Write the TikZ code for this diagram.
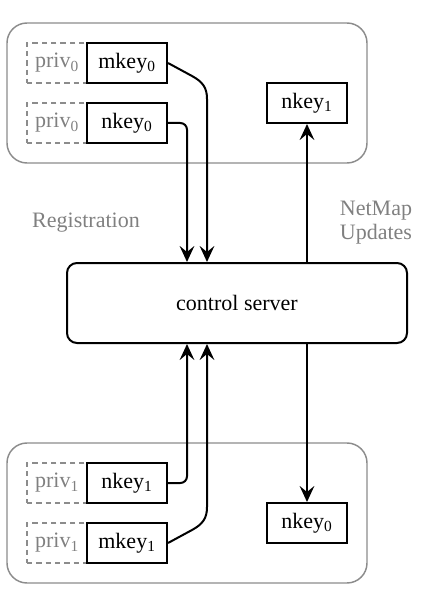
\documentclass[tikz,border=0pt]{standalone}
\usepackage{fontspec}
\setmainfont{Liberation Serif}
\usetikzlibrary{arrows.meta}
\definecolor{grp}{HTML}{8C8C8C}
\definecolor{lbl}{HTML}{808080}
\newcommand{\txtfont}{\fontsize{16.5}{18}\selectfont}
\tikzset{
 keybox/.style={draw, line width=1.5pt, minimum width=60pt, minimum height=30pt, inner sep=0pt, font=\txtfont},
 privbox/.style={draw=grp, dash pattern=on 4pt off 3pt, line width=1.1pt, minimum width=45pt, minimum height=30pt, inner sep=0pt, text=lbl, font=\txtfont},
 group/.style={draw=grp, line width=1.1pt, rounded corners=15pt, minimum width=270pt, minimum height=105pt, inner sep=0pt},
 server/.style={draw, line width=1.5pt, rounded corners=7.5pt, minimum width=255pt, minimum height=60pt, inner sep=0pt, font=\txtfont},
 conn/.style={line width=1.5pt, -{Stealth[length=12pt,width=11pt,inset=4.5pt]}},
 lbltext/.style={text=lbl, font=\txtfont, align=center, inner sep=0pt}
}
\begin{document}
\begin{tikzpicture}[x=0.75pt,y=-0.75pt]
\useasboundingbox (0,0) rectangle (434,602);
% groups
\node[group] (gtop) at (187,93) {};
\node[group] (gbot) at (187,513) {};
% top group
\node[privbox] (priv0a) at (57,63) {priv\textsubscript{0}};
\node[keybox] (mkey0) at (127,63) {mkey\textsubscript{0}};
\node[privbox] (priv0b) at (57,123) {priv\textsubscript{0}};
\node[keybox] (nkey0a) at (127,123) {nkey\textsubscript{0}};
\node[keybox] (nkey1t) at (307,103) {nkey\textsubscript{1}};
% server
\node[server] (server) at (237,303) {control server};
% bottom group
\node[privbox] (priv1a) at (57,483) {priv\textsubscript{1}};
\node[keybox] (nkey1b) at (127,483) {nkey\textsubscript{1}};
\node[privbox] (priv1b) at (57,543) {priv\textsubscript{1}};
\node[keybox] (mkey1) at (127,543) {mkey\textsubscript{1}};
\node[keybox] (nkey0b) at (307,523) {nkey\textsubscript{0}};
% labels
\node[lbltext] (reg) at (86,223) {Registration};
\node[lbltext] (netmap) at (376,223) {NetMap\\Updates};
% anchor points on server
\coordinate (sN1) at ([xshift=-37.5pt]server.north);
\coordinate (sN2) at ([xshift=-22.5pt]server.north);
\coordinate (sN3) at ([xshift=52.5pt]server.north);
\coordinate (sS1) at ([xshift=-37.5pt]server.south);
\coordinate (sS2) at ([xshift=-22.5pt]server.south);
\coordinate (sS3) at ([xshift=52.5pt]server.south);
% connectors
\draw[conn] (mkey0.east) -- (192,76) .. controls (203,82) and (207,88) .. (207,99) -- (sN2);
\draw[conn, rounded corners=5pt] (nkey0a.east) -| (sN1);
\draw[conn] (sN3) -- (nkey1t.south);
\draw[conn, rounded corners=5pt] (nkey1b.east) -| (sS1);
\draw[conn] (mkey1.east) -- (192,530) .. controls (203,524) and (207,518) .. (207,507) -- (sS2);
\draw[conn] (sS3) -- (nkey0b.north);
\end{tikzpicture}
\end{document}
